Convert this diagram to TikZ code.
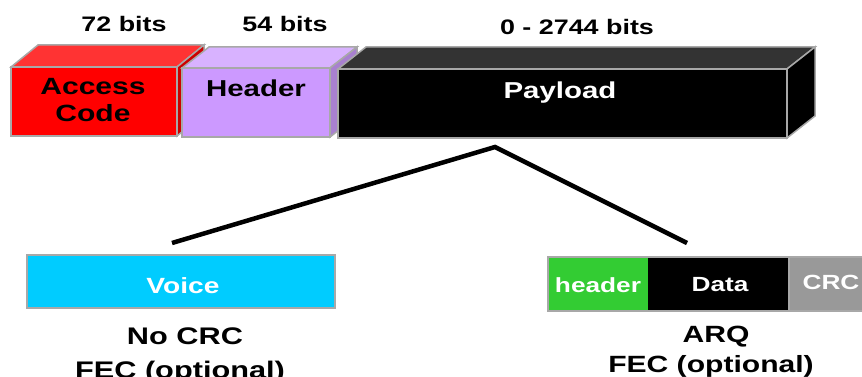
\documentclass[tikz,border=0pt]{standalone}
\usepackage{fontspec}
\setmainfont{Liberation Sans}[FakeStretch=1.28]
\definecolor{edgegray}{RGB}{168,168,168}
\definecolor{accfront}{RGB}{255,0,0}
\definecolor{acctop}{RGB}{255,51,51}
\definecolor{accside}{RGB}{204,0,0}
\definecolor{hdrfront}{RGB}{204,153,255}
\definecolor{hdrtop}{RGB}{216,178,255}
\definecolor{hdrside}{RGB}{168,128,208}
\definecolor{paytop}{RGB}{51,51,51}
\definecolor{voicecyan}{RGB}{0,204,255}
\definecolor{hdrgreen}{RGB}{51,204,51}
\definecolor{crcgray}{RGB}{153,153,153}
\begin{document}
\begin{tikzpicture}[x=1pt,y=-1pt,line join=miter,
  face/.style={draw=edgegray,line width=1.5pt},
  txt/.style={anchor=base,inner sep=0pt,font=\bfseries\fontsize{#1}{#1}\selectfont},
  txt/.default=21,
  wtxt/.style={txt=#1,text=white},
  wtxt/.default=21,
  link/.style={line width=4.5pt,line join=miter}]
\path[use as bounding box] (0,0) rectangle (862,377);

% --- Access Code block
\fill[acctop,face] (11,67) -- (38,45) -- (204,45) -- (177,67) -- cycle;
\fill[accside,face] (177,67) -- (204,45) -- (204,114) -- (177,136) -- cycle;
\fill[accfront,face] (11,67) rectangle (177,136);
% --- Header block
\fill[hdrtop,face] (182,68) -- (209,47) -- (357,47) -- (330,68) -- cycle;
\fill[hdrside,face] (330,68) -- (357,47) -- (357,116) -- (330,137) -- cycle;
\fill[hdrfront,face] (182,68) rectangle (330,137);
% --- Payload block
\fill[paytop,face] (338,69) -- (366,47) -- (815,47) -- (787,69) -- cycle;
\fill[black,face] (787,69) -- (815,47) -- (815,116) -- (787,138) -- cycle;
\fill[black,face] (338,69) rectangle (787,138);

% --- field sizes
\node[txt] (b72) at (124,32) {72 bits};
\node[txt] (b54) at (285,32) {54 bits};
\node[txt] (b2744) at (577,35) {0 - 2744 bits};

% --- block labels
\node[txt=23.5] (acc1) at (93,95) {Access};
\node[txt=23.5] (acc2) at (93,122) {Code};
\node[txt=23] (hdr) at (256,97) {Header};
\node[wtxt=23] (pay) at (560,99) {Payload};

% --- voice packet
\fill[voicecyan,draw=edgegray,line width=2pt] (27,255) rectangle (335,308);
\node[wtxt=22] (voice) at (183,293) {Voice};
\node[txt=24] (nocrc) at (185,344) {No CRC};
\node[txt=24] (fec1) at (180,378) {FEC (optional)};

% --- data packet
\fill[hdrgreen] (548,257) rectangle (648,311);
\fill[black] (648,257) rectangle (788,311);
\fill[crcgray] (790,257) rectangle (872,311);
\draw[edgegray,line width=2pt] (548,257) rectangle (872,311);
\draw[edgegray,line width=2pt] (789,257) -- (789,311);
\node[wtxt=20.5] (dhdr) at (598,292) {header};
\node[wtxt=20.5] (data) at (720,291) {Data};
\node[wtxt=20.5] (crc) at (831,289) {CRC};
\node[txt=23.5] (arq) at (716,342) {ARQ};
\node[txt=23.5] (fec2) at (711,372) {FEC (optional)};

% --- split of the payload
\coordinate (apex) at (495,147);
\coordinate (vend) at (172,243);
\coordinate (dend) at (687,243);
\draw[link] (vend) -- (apex) -- (dend);
\end{tikzpicture}
\end{document}
